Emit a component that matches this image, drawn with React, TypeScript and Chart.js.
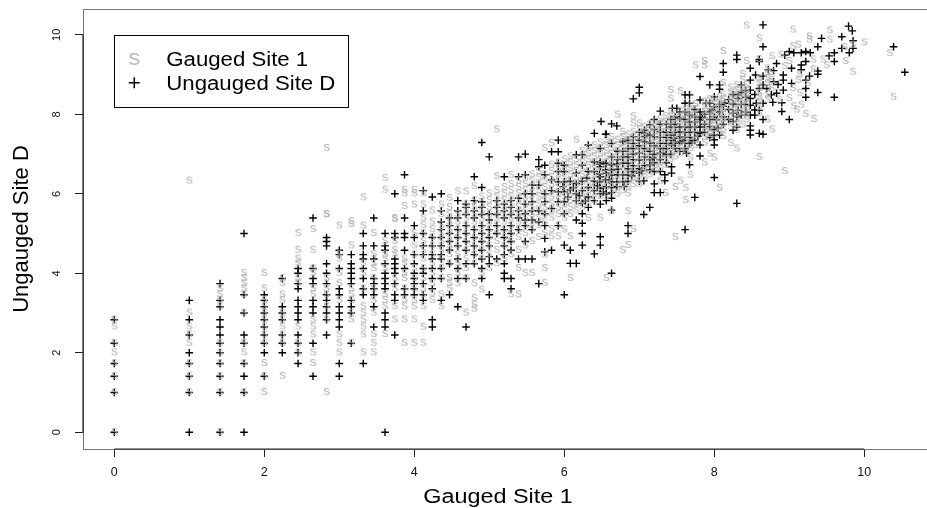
import React, { useEffect, useRef } from "react";
import { Chart, registerables } from "chart.js";

Chart.register(...registerables);

const xTickValues = [0, 2, 4, 6, 8, 10];
const yTickValues = [0, 2, 4, 6, 8, 10];
const xTitle = "Gauged Site 1";
const yTitle = "Ungauged Site D";
const gaugedName = "Gauged Site 1";
const ungaugedName = "Ungauged Site D";

// [x, [y, y, ...]] columns
const ungaugedColumns: [number, number[]][] = [
  [0, [0, 1, 1.41, 1.73, 2.24, 2.83]],
  [1, [0, 1, 1.41, 1.73, 2, 2.45, 2.83, 3.32]],
  [1.41, [0, 1, 1.41, 1.73, 2, 2.24, 2.45, 2.65, 2.83, 3.16, 3.32, 3.74]],
  [1.73, [0, 1, 1.41, 1.73, 2.24, 2.45, 3, 3.46, 5]],
  [2, [1.41, 2, 2.24, 2.45, 2.65, 2.83, 3, 3.16, 3.32, 3.46]],
  [2.24, [2, 2.24, 2.45, 2.83, 3, 3.16, 3.87]],
  [2.45, [1.73, 2, 2.24, 2.45, 2.83, 3, 3.16, 3.32, 3.61, 3.74, 4, 4.12]],
  [2.65, [1.41, 2.24, 3, 3.16, 3.32, 3.74, 3.87, 4.12, 5.39]],
  [2.83, [2.45, 2.83, 3, 3.16, 3.32, 3.46, 3.74, 4, 4.24, 4.69, 4.8, 4.9]],
  [3, [1.41, 1.73, 2.65, 2.83, 3, 3.16, 3.46, 3.61, 4.12, 4.47, 4.58]],
  [3.16, [2.24, 3, 3.16, 3.32, 3.74, 3.87, 4, 4.12, 4.24, 4.47]],
  [3.32, [1.73, 3.46, 3.61, 3.87, 4.12, 4.36, 4.47, 4.69, 5]],
  [3.46, [2.65, 3.16, 3.46, 3.61, 3.74, 3.87, 4.36, 4.69, 5.39]],
  [3.61, [0, 2.65, 2.83, 3, 3.61, 3.74, 3.87, 4, 4.24, 4.58, 4.69, 5]],
  [3.74, [2.45, 3.32, 3.46, 3.74, 4, 4.12, 4.24, 4.36, 4.9, 5, 6]],
  [3.87, [3.46, 3.61, 4.12, 4.58, 4.9, 5, 5.39, 6.48]],
  [4, [3.46, 3.61, 3.74, 3.87, 4, 4.24, 4.47, 4.9, 5.2]],
  [4.12, [3.32, 3.46, 3.74, 4, 4.12, 4.47, 4.69, 5, 5.57, 6.08]],
  [4.24, [2.65, 2.83, 3.61, 3.87, 4.12, 4.36, 4.47, 4.69, 4.9, 5.92]],
  [4.36, [3.32, 3.87, 4.12, 4.36, 4.47, 4.69, 4.9, 5.1, 5.29, 5.57, 6]],
  [4.47, [3.46, 4.24, 4.58, 4.8, 5, 5.2, 5.39]],
  [4.58, [3.16, 3.87, 4.12, 4.36, 4.69, 4.9, 5.1, 5.39, 5.57, 5.83]],
  [4.69, [2.65, 3.87, 4.24, 4.58, 4.8, 5, 5.2, 5.48, 5.66, 5.74]],
  [4.8, [4.24, 4.47, 4.69, 4.9, 5.1, 5.39, 5.57, 5.83, 6.43]],
  [4.9, [3.87, 4.12, 4.36, 4.58, 4.8, 5, 5.2, 5.48, 5.66, 5.8, 6.16, 7.29]],
  [5, [3.46, 4.24, 4.42, 4.69, 4.9, 5.1, 5.34, 5.5, 6.93]],
  [5.1, [4.36, 5, 5.2, 5.48, 5.66, 5.83]],
  [5.2, [3.87, 4, 4.24, 4.47, 4.69, 4.9, 5.1, 5.39, 5.57, 5.74, 6.43]],
  [5.29, [3.61, 3.87, 4.58, 4.8, 5, 5.2, 5.48, 5.66, 5.83]],
  [5.39, [4.36, 5.1, 5.39, 5.57, 5.89, 6.43, 6.93]],
  [5.48, [4.36, 4.8, 5.2, 5.34, 5.5, 5.74, 6, 6.48, 7]],
  [5.57, [4.36, 5.1, 5.34, 5.57, 5.8, 6, 6.22]],
  [5.66, [3.74, 5.29, 5.57, 6.22, 6.68, 6.86]],
  [5.74, [4.54, 4.88, 5.2, 5.5, 5.8, 6, 6.48, 6.72]],
  [5.83, [4.58, 5.63, 6.08, 6.35, 7.06]],
  [5.92, [5.2, 5.8, 6.05, 6.3, 6.56, 6.77, 7.06, 7.35]],
  [6, [3.46, 4.71, 5.5, 5.8, 6.05, 6.3, 6.56, 6.72]],
  [6.08, [4.25, 4.58]],
  [6.16, [4.25, 5.34, 6, 6.26, 6.52, 6.98]],
  [6.24, [4.71, 5, 5.26, 5.5, 5.76, 6.72, 6.98]],
  [6.32, [7.23]],
  [6.4, [4.49, 6.8, 7.52]],
  [6.48, [4.71, 4.92, 6.14, 6.43, 6.68, 6.8, 7.14]],
  [6.56, [6.18, 6.52, 6.77, 7.5]],
];

const ungaugedPairs: [number, number][] = [
  [6.63, 4], [6.63, 5.59], [6.63, 5.89], [6.63, 6.03], [6.63, 6.3], [6.63, 6.47], [6.63, 6.6], [6.63, 6.73], [6.63, 6.93],
  [6.55, 6.35], [6.55, 6.6], [6.55, 6.75], [6.47, 6.3], [6.47, 6.5], [6.47, 6.75], [6.7, 6.3], [6.7, 6.18], [6.7, 6.75],
  [6.78, 6.3], [6.8, 6.18], [6.78, 6.77], [6.85, 5], [6.85, 5.2], [6.85, 6.47], [6.85, 6.77], [7, 6.52], [7, 6.85], [7, 7.02],
  [7.06, 5.48], [7.06, 6.33], [7.14, 5.66], [7.14, 6.73], [7.14, 6.6], [7.2, 6.03], [7.2, 6.25], [7.2, 6.56], [7.28, 6.03], [7.28, 6.56],
  [7.34, 6.33], [7.34, 6.48], [7.43, 6.68], [7.43, 6.52], [7.36, 6.98], [7.36, 7.14], [7.36, 7.27], [7.43, 7.23], [7.28, 7.02], [7.28, 7.27],
  [7.28, 7.56], [7.2, 7.44], [7.07, 7.6], [7.07, 7.52], [7.07, 7.44], [7.07, 7.31], [6.92, 7.44], [6.92, 7.27], [6.92, 7.14],
  [6.78, 7.31], [6.63, 7.27], [6.55, 7.5], [6.49, 7.82], [6.63, 7.76], [6.7, 7.71], [7.14, 7.73], [7.2, 7.87], [7.28, 8.08],
  [7.44, 8.15], [7.5, 8.15], [7.61, 8.49], [7.67, 8.49], [7.61, 8.28], [7.67, 8.28], [7.81, 8.36], [7.89, 8.28], [7.94, 8.28], [8, 8.44],
  [8.14, 8.28], [8.12, 8.2], [7.74, 7.94], [7.74, 7.81], [7.74, 7.69], [7.67, 7.81], [7.67, 7.98], [7.54, 7.9], [7.54, 7.56], [7.54, 7.44], [7.54, 7.31],
  [7.61, 7.27], [7.67, 7.27], [7.63, 7.02], [7.81, 7.52], [7.81, 7.23], [7.94, 7.69], [8, 7.48], [8, 7.36], [8, 7.23], [8.05, 7.65], [8.03, 7.86],
  [7.81, 6.95], [7.67, 6.73], [8, 6.41], [7.74, 5.91], [7.61, 5.1], [8.3, 5.76],
  [8.25, 7.6], [8.25, 7.82], [8.25, 8.03], [8.25, 8.26], [8.32, 8.1], [8.36, 7.98], [8.32, 8.49], [8.32, 8.4], [8.48, 7.48], [8.48, 7.6], [8.48, 7.71],
  [8.48, 7.98], [8.54, 7.98], [8.54, 8.11], [8.48, 8.23], [8.56, 8.28], [8.65, 8.28], [8.65, 7.87], [8.6, 7.52], [8.65, 7.5],
  [8.48, 8.61], [8.48, 8.86], [8.48, 9.16], [8.36, 8.74], [8.55, 8.99], [8.65, 8.96], [8.65, 8.74], [8.72, 9.12], [8.79, 9.1], [8.79, 8.82], [8.76, 8.49],
  [8.83, 8.53], [8.83, 9.28], [8.92, 8.99], [8.92, 8.86], [8.92, 8.61], [8.94, 9.49], [9, 9.58], [9.06, 9.55], [9.03, 9.16], [9.03, 8.78], [9, 7.87],
  [8.9, 8.07], [8.9, 8.29], [9.16, 9.55], [9.22, 9.58], [9.28, 9.55], [9.22, 9.33], [9.16, 9.24], [9.16, 9.12], [9.27, 8.96], [9.22, 8.86], [9.22, 8.65],
  [9.22, 8.43], [9.38, 9.01], [9.38, 9.09], [9.38, 8.55], [9.38, 9.7], [9.43, 9.91], [9.53, 9.47], [9.6, 9.55], [9.6, 9.33], [9.6, 8.43], [9.7, 9.95], [9.7, 9.66],
  [9.79, 10.22], [9.84, 10.1], [9.85, 9.85], [9.85, 9.66], [9.8, 9.55], [10.39, 9.7], [10.54, 9.06], [8.65, 10.25], [8.65, 9.7], [8.3, 9.49], [8.3, 9.38],
  [8.12, 9.28], [8.12, 9.06], [8.6, 9.38], [8.6, 9.33], [7.81, 8.95], [7.94, 8.74], [8.07, 8.74], [8.07, 8.63], [7, 8.68], [7, 8.54], [6.92, 8.39],
];

const ungaugedDensePairs: [number, number][] = [
  [6.08, 6.1], [6.08, 6.32], [6.16, 5.83], [6.24, 6.08], [6.24, 6.32], [6.32, 5.66], [6.32, 5.92], [6.32, 6.16], [6.32, 6.56], [6.4, 5.83], [6.4, 6.08], [6.4, 6.32], [6.4, 6.56],
  [6.48, 5.74], [6.48, 6], [6.56, 5.83], [6.56, 6], [6.63, 6.16], [6.71, 6.48], [6.71, 6.86], [6.71, 7.07], [6.78, 6.48], [6.78, 6.93], [6.78, 7.07], [6.85, 6.32], [6.85, 6.63], [6.85, 6.93], [6.85, 7.14], [6.85, 7.35],
  [6.92, 6.56], [6.92, 6.71], [6.92, 6.86], [6.92, 7], [7, 6.32], [7, 6.63], [7, 7.21], [7, 7.35], [7, 7.55], [7.07, 6.71], [7.07, 6.93], [7.07, 7.14],
  [7.14, 6.86], [7.14, 7.07], [7.14, 7.28], [7.14, 7.48], [7.2, 6.78], [7.2, 7], [7.2, 7.21], [7.2, 7.62], [7.28, 6.86], [7.28, 7.14], [7.28, 7.42], [7.28, 7.75],
  [7.36, 6.78], [7.36, 7.42], [7.36, 7.55], [7.36, 7.75], [7.42, 7], [7.42, 7.35], [7.42, 7.48], [7.42, 7.68], [7.42, 7.87], [7.48, 7.14], [7.48, 7.28], [7.48, 7.55], [7.48, 7.75], [7.48, 7.94],
  [7.54, 7.07], [7.54, 7.68], [7.54, 8.06], [7.61, 7.14], [7.61, 7.42], [7.61, 7.55], [7.61, 7.68], [7.61, 7.87], [7.61, 8.06], [7.68, 7.42], [7.68, 7.55], [7.68, 7.68], [7.74, 7.35], [7.74, 7.55], [7.74, 8.12],
  [7.81, 7.68], [7.81, 7.87], [7.81, 8.06], [7.87, 7.55], [7.87, 7.75], [7.87, 8], [7.94, 7.42], [7.94, 7.87], [7.94, 8.06], [8, 7.62], [8, 7.94], [8, 8.19], [8.07, 7.48], [8.07, 8.06], [8.07, 8.25],
  [8.12, 7.75], [8.12, 7.94], [8.19, 7.87], [8.19, 8.12], [8.19, 8.37], [8.3, 7.68], [8.3, 7.94], [8.36, 8.25], [8.42, 8.06], [8.42, 8.43], [8.42, 8.6],
  [8.48, 8.4], [8.42, 8.25], [8.54, 8.5], [8.6, 8.65], [8.7, 8.65], [8.78, 8.3], [8.85, 8.75], [8.6, 8.1], [8.36, 8.55], [8.25, 8.5],
  [6.9, 6.45], [7.03, 6.58], [7.18, 6.9], [7.32, 7.02], [7.46, 7.4], [7.58, 7.35], [7.7, 7.3], [7.78, 7.45], [7.84, 7.92], [7.97, 8.1],
  [6.3, 6.4], [6.44, 6.2], [6.52, 6.05], [6.6, 6.35], [6.72, 6.62], [5.98, 6.18], [6.05, 5.92], [6.12, 6.15], [6.2, 5.95], [6.28, 5.82],
];

const gaugedColumns: [number, number[]][] = [
  [0, [0, 1, 1.41, 1.73, 2, 2.24, 2.65, 2.83]],
  [1, [1, 1.41, 1.73, 2.24, 2.45, 2.65, 3, 6.32]],
  [1.41, [0, 1, 1.41, 1.73, 2, 2.24, 3.16, 3.32, 3.46, 3.61]],
  [1.73, [1, 1.73, 2, 2.24, 3, 3.46, 3.61, 3.74, 3.87, 4]],
  [2, [1, 1.41, 1.73, 2.24, 2.45, 2.65, 2.83, 3, 3.16, 3.32, 3.61, 4]],
  [2.24, [1.41, 2.24, 2.45, 2.65, 2.83, 3, 3.32, 3.46, 3.74, 3.87]],
  [2.45, [2, 2.24, 2.65, 3.74, 3.87, 4.24, 4.36, 4.58, 5]],
  [2.65, [1.73, 2, 2.45, 2.65, 2.83, 3.46, 3.61, 4, 4.12, 4.58, 5.1]],
  [2.83, [1, 2.83, 3.16, 3.46, 3.61, 3.87, 5.47, 7.14, 5.48]],
  [3, [2, 2.24, 2.45, 3.32, 3.74, 4, 4.36, 4.47, 5.19]],
  [3.16, [2.24, 2.83, 3, 3.32, 3.46, 3.61, 4.69, 5.23, 5.3]],
  [3.32, [2, 2.45, 2.65, 2.83, 3, 3.16, 3.61, 4, 4.24, 5.19, 5.9]],
  [3.46, [2, 2.24, 2.46, 3, 3.32, 3.61, 3.87, 4.12, 4.24, 4.47, 5]],
  [3.61, [2.46, 3.16, 3.32, 3.46, 4.12, 4.36, 4.47, 4.8, 6.09, 6.39]],
  [3.74, [2.83, 3.16, 3.61, 3.87, 4.47, 4.58, 4.8, 5.38, 5.35]],
  [3.87, [2.24, 2.83, 3.16, 3.33, 3.61, 3.87, 4, 4.24, 4.36, 5.68, 6, 6.09]],
  [4, [2.24, 2.83, 3.16, 3.32, 3.61, 3.87, 4.12, 4.47, 4.69, 5, 5.72, 6, 6.09]],
  [4.12, [2.24, 2.64, 3.16, 3.46, 3.61, 3.87, 4.12, 4.36, 4.58, 4.8, 5, 5.2, 5.39, 5.72, 6]],
  [4.24, [3.32, 3.5, 3.74, 4, 4.24, 4.47, 4.69, 4.9, 5.1, 5.29, 5.57]],
  [4.36, [3.16, 3.46, 3.87, 4.12, 4.36, 4.58, 4.8, 5, 5.2, 5.48, 5.72]],
  [4.47, [3.61, 3.75, 3.87, 4.24, 4.47, 4.69, 4.9, 5.1, 5.29, 5.48, 5.66, 5.89]],
  [4.58, [3.74, 4, 4.24, 4.47, 4.69, 4.9, 5.1, 5.29, 5.48, 6.05]],
  [4.69, [3, 3.87, 4.12, 4.36, 4.58, 4.8, 5, 5.2, 5.39, 5.57, 5.74, 6.05]],
  [4.8, [3.1, 3.2, 3.37, 3.74, 4.24, 4.47, 4.69, 4.9, 5.1, 5.29, 5.48, 5.66, 5.83, 6.18]],
  [4.9, [3.58, 4, 4.36, 4.58, 4.8, 5, 5.2, 5.39, 5.57, 5.74, 5.92]],
  [5, [4.12, 4.47, 4.69, 4.9, 5.1, 5.29, 5.48, 5.66, 5.83, 6]],
  [5.1, [4.24, 4.58, 4.8, 5, 5.2, 5.39, 5.57, 5.74, 5.92, 6.08, 6.43, 7.61]],
  [5.2, [4.36, 4.69, 4.9, 5.1, 5.29, 5.48, 5.66, 5.83, 6, 6.16]],
  [5.29, [3.46, 4.47, 4.8, 5, 5.2, 5.39, 5.57, 5.74, 5.92, 6.08, 6.24, 6.47]],
  [5.39, [3.46, 4.12, 4.58, 4.9, 5.1, 5.29, 5.48, 5.66, 5.83, 6, 6.16, 6.32]],
  [5.48, [4, 4.69, 5, 5.2, 5.39, 5.57, 5.74, 5.92, 6.08, 6.24, 6.4]],
  [5.57, [4, 4.8, 5.1, 5.29, 5.48, 5.66, 5.83, 6, 6.16, 6.32, 6.48]],
  [5.66, [4.9, 5.2, 5.39, 5.57, 5.74, 5.92, 6.08, 6.24, 6.4, 6.56]],
  [5.74, [3.75, 4.12, 4.46, 5.0, 5.29, 5.48, 5.66, 5.83, 6, 6.16, 6.32, 6.48, 7.14]],
  [5.83, [4.92, 5.1, 5.39, 5.57, 5.74, 5.92, 6.08, 6.24, 6.4, 6.56, 6.72, 7.27]],
  [5.92, [4.92, 5.2, 5.48, 5.66, 5.83, 6, 6.16, 6.32, 6.48, 6.63, 6.78]],
  [6, [5.09, 5.39, 5.57, 5.74, 5.92, 6.08, 6.24, 6.4, 6.56, 6.71, 6.86]],
  [6.08, [3.87, 4.92, 5.48, 5.66, 5.83, 6, 6.16, 6.32, 6.48, 6.63, 6.78, 6.93]],
  [6.16, [5.57, 5.74, 5.92, 6.08, 6.24, 6.4, 6.56, 6.71, 6.86, 7.35]],
  [6.24, [5.66, 5.83, 6, 6.16, 6.32, 6.48, 6.63, 6.78, 6.93, 7.07]],
  [6.32, [5.38, 5.74, 5.92, 6.08, 6.24, 6.4, 6.56, 6.71, 6.86, 7, 7.14]],
  [6.4, [5.83, 6, 6.16, 6.32, 6.48, 6.63, 6.78, 6.93, 7.07, 7.21]],
  [6.48, [5.39, 5.93, 6.08, 6.24, 6.4, 6.56, 6.71, 6.86, 7, 7.14, 7.28]],
  [6.56, [3.87, 5.92, 6.16, 6.32, 6.48, 6.63, 6.78, 6.93, 7.07, 7.21, 7.35]],
  [6.63, [5.55, 6.08, 6.24, 6.4, 6.56, 6.71, 6.86, 7, 7.14, 7.28, 7.42]],
  [6.71, [6, 6.16, 6.32, 6.48, 6.63, 6.78, 6.93, 7.07, 7.21, 7.35, 7.98]],
  [6.78, [4.57, 6.08, 6.24, 6.4, 6.56, 6.71, 6.86, 7, 7.14, 7.28, 7.42, 7.55]],
  [6.85, [4.7, 5.55, 6, 6.16, 6.32, 6.48, 6.63, 6.78, 6.93, 7.07, 7.21, 7.35, 7.48]],
  [6.92, [5.1, 6.24, 6.4, 6.56, 6.71, 6.86, 7, 7.14, 7.28, 7.42, 7.55, 7.76, 7.94]],
  [7, [6.24, 6.32, 6.48, 6.63, 6.78, 6.93, 7.07, 7.21, 7.35, 7.48, 7.62, 7.76]],
  [7.07, [6.4, 6.56, 6.71, 6.86, 7, 7.14, 7.28, 7.42, 7.55, 7.68]],
  [7.14, [6.48, 6.63, 6.78, 6.93, 7.07, 7.21, 7.35, 7.48, 7.62, 7.75]],
  [7.21, [6.56, 6.71, 6.86, 7, 7.14, 7.28, 7.42, 7.55, 7.68, 7.81]],
  [7.28, [6.32, 6.63, 6.78, 6.93, 7.07, 7.21, 7.35, 7.48, 7.62, 7.75, 7.87]],
  [7.35, [6.01, 6.71, 6.86, 7, 7.14, 7.28, 7.42, 7.55, 7.68, 7.81, 7.94]],
  [7.42, [6.86, 7, 7.14, 7.28, 7.42, 7.55, 7.68, 7.81, 7.94, 8.06, 8.38, 8.6]],
  [7.48, [4.9, 6.16, 6.93, 7.07, 7.21, 7.35, 7.48, 7.62, 7.75, 7.87, 8]],
  [7.55, [6.32, 7, 7.14, 7.28, 7.42, 7.55, 7.68, 7.81, 7.94, 8.06, 8.57]],
  [7.62, [5.83, 6.14, 7.07, 7.21, 7.35, 7.48, 7.62, 7.75, 7.87, 8, 8.12]],
  [7.68, [6.47, 6.9, 7.14, 7.28, 7.42, 7.55, 7.68, 7.81, 7.94, 8.06, 8.19]],
  [7.75, [7.21, 7.35, 7.48, 7.62, 7.75, 7.87, 8, 8.12, 8.25, 9.22]],
  [7.87, [6.78, 7.28, 7.42, 7.55, 7.68, 7.81, 7.94, 8.06, 8.19, 8.31, 9.22, 9.33]],
  [7.94, [7, 7.42, 7.55, 7.68, 7.81, 7.94, 8.06, 8.19, 8.37]],
  [8, [6.9, 7.48, 7.62, 7.75, 7.87, 8, 8.12, 8.25, 8.37]],
  [8.07, [6.14, 7.55, 7.68, 7.81, 7.94, 8.06, 8.19, 8.31, 8.43]],
  [8.12, [7.44, 7.62, 7.75, 7.87, 8, 8.12, 8.25, 8.37, 8.49, 8.78, 9.58]],
  [8.22, [7.27, 7.68, 7.81, 7.94, 8.06, 8.19, 8.31, 8.43, 8.54, 8.66]],
  [8.3, [7.13, 7.6, 7.75, 7.87, 8, 8.12, 8.25, 8.37, 8.49, 8.6, 8.72]],
  [8.38, [7.73, 7.94, 8.06, 8.19, 8.31, 8.43, 8.54, 8.66, 8.86, 9]],
  [8.43, [7.86, 8, 8.12, 8.25, 8.37, 8.49, 8.6, 8.72, 9.33, 10.22]],
  [8.6, [6.92, 8.03, 8.19, 8.31, 8.43, 8.53, 8.66, 8.78, 8.9, 9.38, 9.9]],
  [8.71, [7.86, 8.36, 8.49, 8.65, 8.78, 8.9, 9.02, 9.14]],
  [8.77, [7.61, 8.65, 8.85, 9.05, 9.45]],
];

const gaugedPairs: [number, number][] = [
  [8.87, 8.36], [8.89, 9.49], [8.94, 9.2], [8.94, 6.56], [9, 8.4], [9, 9.33], [9.05, 8.65], [9.05, 9.7], [9.05, 10.12], [9.06, 8.19], [9.1, 8.11],
  [9.12, 8.86], [9.12, 9.74], [9.14, 8.53], [9.14, 8.99], [9.16, 8.23], [9.22, 8], [9.25, 8.78], [9.27, 9.95], [9.27, 9.87], [9.32, 9.37], [9.32, 9.12],
  [9.33, 7.87], [9.45, 9.37], [9.5, 9.22], [9.54, 10.1], [9.54, 9.87], [9.74, 9.68], [9.75, 9.33], [9.85, 9.74], [9.85, 9.06], [10, 9.8], [10.34, 9.53], [10.39, 8.43],
];

function columnsToPoints(columns: [number, number[]][]) {
  const out: { x: number; y: number }[] = [];
  for (const [x, ys] of columns) for (const y of ys) out.push({ x, y });
  return out;
}
function pairsToPoints(pairs: [number, number][]) {
  return pairs.map(([x, y]) => ({ x, y }));
}

const FONT = '"Liberation Sans", Arial, sans-serif';

function makeSGlyph(): HTMLCanvasElement {
  const c = document.createElement("canvas");
  c.width = 9;
  c.height = 11;
  const g = c.getContext("2d")!;
  g.fillStyle = "#b0b0b0";
  g.font = `13.5px ${FONT}`;
  g.textAlign = "center";
  g.textBaseline = "middle";
  g.fillText("s", 4.5, 4.6);
  return c;
}

const framePlugin = {
  id: "frame",
  beforeDatasetsDraw(chart: any) {
    const { ctx, chartArea: a, scales } = chart;
    const x = scales.x;
    const y = scales.y;
    ctx.save();
    ctx.strokeStyle = "#777";
    ctx.lineWidth = 1;
    ctx.beginPath();
    ctx.moveTo(a.left, a.top + 0.5);
    ctx.lineTo(a.right, a.top + 0.5);
    ctx.stroke();
    ctx.strokeStyle = "#222";
    ctx.lineWidth = 1.2;
    ctx.beginPath();
    ctx.moveTo(x.getPixelForValue(xTickValues[0]), a.bottom);
    ctx.lineTo(x.getPixelForValue(xTickValues[xTickValues.length - 1]), a.bottom);
    ctx.moveTo(a.left, y.getPixelForValue(yTickValues[0]));
    ctx.lineTo(a.left, y.getPixelForValue(yTickValues[yTickValues.length - 1]));
    ctx.stroke();
    ctx.restore();
  },
  afterDraw(chart: any) {
    const { ctx, scales } = chart;
    const left = scales.x.getPixelForValue(0);
    const top = scales.y.getPixelForValue(10);
    ctx.save();
    // legend box
    ctx.fillStyle = "#fff";
    ctx.fillRect(left, top, 234, 72);
    ctx.strokeStyle = "#000";
    ctx.lineWidth = 1;
    ctx.strokeRect(Math.round(left) + 0.5, Math.round(top) + 0.5, 234, 72);
    ctx.textBaseline = "alphabetic";
    // legend symbols
    ctx.textAlign = "center";
    ctx.fillStyle = "#bebebe";
    ctx.font = `22px ${FONT}`;
    ctx.save();
    ctx.translate(left + 20, top + 30);
    ctx.scale(1.1, 1);
    ctx.fillText("s", 0, 0);
    ctx.restore();
    ctx.strokeStyle = "#000";
    ctx.lineWidth = 1.5;
    ctx.beginPath();
    const px = left + 20;
    const py = top + 48;
    ctx.moveTo(px - 5.5, py);
    ctx.lineTo(px + 5.5, py);
    ctx.moveTo(px, py - 5.5);
    ctx.lineTo(px, py + 5.5);
    ctx.stroke();
    // legend labels and x title, wider than tall as in the reference
    ctx.fillStyle = "#000";
    ctx.textAlign = "left";
    ctx.font = `20px ${FONT}`;
    ctx.save();
    ctx.translate(left + 52, top + 31);
    ctx.scale(1.11, 1);
    ctx.fillText(gaugedName, 0, 0);
    ctx.restore();
    ctx.save();
    ctx.translate(left + 52, top + 55);
    ctx.scale(1.11, 1);
    ctx.fillText(ungaugedName, 0, 0);
    ctx.restore();
    ctx.textAlign = "center";
    ctx.save();
    ctx.translate(498, 503);
    ctx.scale(1.17, 1);
    ctx.fillText(xTitle, 0, 0);
    ctx.restore();
    ctx.restore();
  },
};

function clearAxisPadding(axis: any) {
  axis.paddingTop = 0;
  axis.paddingBottom = 0;
  axis.paddingLeft = 0;
  axis.paddingRight = 0;
}

export default function App() {
  const ref = useRef<HTMLCanvasElement>(null);
  useEffect(() => {
    document.body.style.margin = "0";
    const sGlyph = makeSGlyph();
    const chart = new Chart(ref.current!, {
      type: "scatter",
      data: {
        datasets: [
          {
            label: ungaugedName,
            data: [
              ...columnsToPoints(ungaugedColumns),
              ...pairsToPoints(ungaugedPairs),
              ...pairsToPoints(ungaugedDensePairs),
            ],
            pointStyle: "cross",
            pointRadius: 3.8,
            borderColor: "#000",
            borderWidth: 1.4,
            order: 2,
          },
          {
            label: gaugedName,
            data: [...columnsToPoints(gaugedColumns), ...pairsToPoints(gaugedPairs)],
            pointStyle: sGlyph,
            pointRadius: 4,
            order: 1,
          },
        ],
      },
      options: {
        animation: false,
        responsive: false,
        devicePixelRatio: 1,
        layout: { autoPadding: false, padding: { top: 9, right: 0, left: 0, bottom: 0 } },
        plugins: { legend: { display: false }, tooltip: { enabled: false } },
        scales: {
          x: {
            type: "linear",
            min: -0.417,
            max: 10.836,
            afterBuildTicks: (axis: any) => {
              axis.ticks = xTickValues.map((value) => ({ value }));
            },
            afterFit: (axis: any) => {
              axis.height = 59;
              clearAxisPadding(axis);
            },
            grid: { drawOnChartArea: false, drawTicks: true, tickLength: 8, color: "#222", lineWidth: 1 },
            border: { display: true, color: "#777", width: 1 },
            ticks: {
              color: "#111",
              font: { family: FONT, size: 12.5 },
              padding: 8,
              maxRotation: 0,
              minRotation: 0,
              autoSkip: false,
              callback: (v: any) => String(v),
            },
          },
          y: {
            type: "linear",
            min: -0.42,
            max: 10.65,
            afterBuildTicks: (axis: any) => {
              axis.ticks = yTickValues.map((value) => ({ value }));
            },
            afterFit: (axis: any) => {
              axis.width = 83;
              clearAxisPadding(axis);
            },
            grid: { drawOnChartArea: false, drawTicks: true, tickLength: 8, color: "#222", lineWidth: 1 },
            border: { display: true, color: "#777", width: 1 },
            title: {
              display: true,
              text: yTitle,
              color: "#000",
              font: { family: FONT, size: 22 },
              padding: { top: 9, bottom: 0 },
            },
            ticks: {
              color: "#111",
              font: { family: FONT, size: 11 },
              padding: 12,
              minRotation: 90,
              maxRotation: 90,
              crossAlign: "center",
              autoSkip: false,
              callback: (v: any) => String(v),
            },
          },
        },
      },
      plugins: [framePlugin],
    } as any);
    return () => chart.destroy();
  }, []);
  return <canvas ref={ref} width={927} height={508} style={{ display: "block" }} />;
}
